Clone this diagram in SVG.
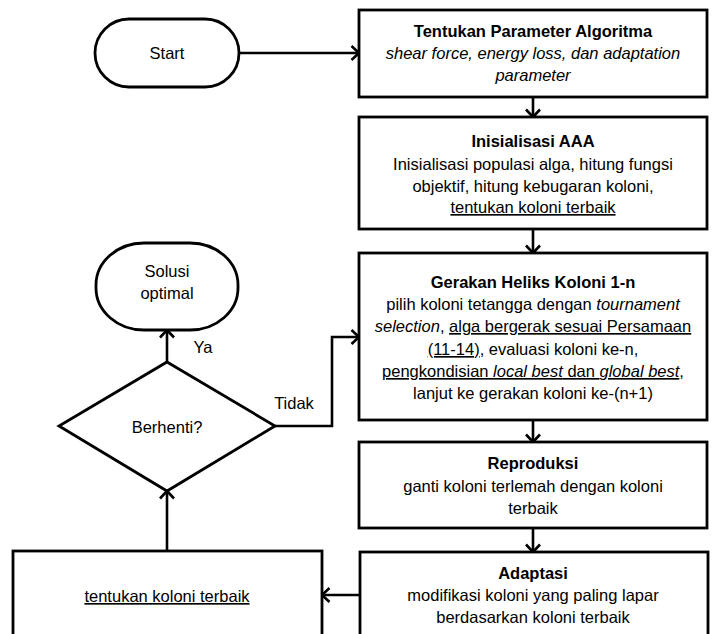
<svg xmlns="http://www.w3.org/2000/svg" width="715" height="634" viewBox="0 0 715 634">
<style>
.shape{fill:#fff;stroke:#000;stroke-width:2.8}
.conn{fill:none;stroke:#000;stroke-width:2.6}
text{font-family:"Liberation Sans",Arial,sans-serif;font-size:16.5px;fill:#000;text-anchor:middle}
.b{font-weight:bold}
.i{font-style:italic}
.u{text-decoration:underline}
</style>
<defs>
<marker id="arr" markerUnits="userSpaceOnUse" markerWidth="16" markerHeight="18" viewBox="0 0 16 18" refX="13.5" refY="9" orient="auto">
<path d="M6,2 L13.5,9 L6,16" fill="none" stroke="#000" stroke-width="2.6"/>
</marker>
</defs>
<rect width="715" height="634" fill="#fff"/>
<g id="connectors">
<line class="conn" x1="239" y1="53" x2="359" y2="53" marker-end="url(#arr)"/>
<line class="conn" x1="533" y1="97" x2="533" y2="117" marker-end="url(#arr)"/>
<line class="conn" x1="533" y1="229" x2="533" y2="253" marker-end="url(#arr)"/>
<line class="conn" x1="533" y1="420" x2="533" y2="442" marker-end="url(#arr)"/>
<line class="conn" x1="533" y1="528" x2="533" y2="552" marker-end="url(#arr)"/>
<line class="conn" x1="360" y1="595" x2="322" y2="595" marker-end="url(#arr)"/>
<line class="conn" x1="167" y1="551" x2="167" y2="491" marker-end="url(#arr)"/>
<line class="conn" x1="167" y1="362" x2="167" y2="330" marker-end="url(#arr)"/>
<polyline class="conn" points="275,426 332,426 332,337 359,337" marker-end="url(#arr)"/>
<text x="203" y="353">Ya</text>
<text x="294" y="409">Tidak</text>
</g>
<g id="start">
<rect class="shape" x="95" y="19" width="144" height="68" rx="34" ry="34"/>
<text x="167" y="59">Start</text>
</g>
<g id="param">
<rect class="shape" x="359" y="10" width="348" height="87"/>
<text x="533" y="37" class="b">Tentukan Parameter Algoritma</text>
<text x="533" y="59" class="i">shear force, energy loss, dan adaptation</text>
<text x="533" y="81" class="i">parameter</text>
</g>
<g id="init">
<rect class="shape" x="359" y="117" width="348" height="112"/>
<text x="533" y="147" class="b">Inisialisasi AAA</text>
<text x="533" y="170">Inisialisasi populasi alga, hitung fungsi</text>
<text x="533" y="192">objektif, hitung kebugaran koloni,</text>
<text x="533" y="213" class="u">tentukan koloni terbaik</text>
</g>
<g id="heliks">
<rect class="shape" x="359" y="253" width="348" height="167"/>
<text x="533" y="288" class="b">Gerakan Heliks Koloni 1-n</text>
<text x="533" y="310">pilih koloni tetangga dengan <tspan class="i">tournament</tspan></text>
<text x="533" y="332"><tspan class="i">selection</tspan>, <tspan class="u">alga bergerak sesuai Persamaan</tspan></text>
<text x="533" y="355"><tspan class="u">(11-14)</tspan>, evaluasi koloni ke-n,</text>
<text x="533" y="377"><tspan class="u">pengkondisian </tspan><tspan class="u i">local best</tspan><tspan class="u"> dan </tspan><tspan class="u i">global best</tspan>,</text>
<text x="533" y="399">lanjut ke gerakan koloni ke-(n+1)</text>
</g>
<g id="reproduksi">
<rect class="shape" x="359" y="442" width="348" height="86"/>
<text x="533" y="469" class="b">Reproduksi</text>
<text x="533" y="492">ganti koloni terlemah dengan koloni</text>
<text x="533" y="514">terbaik</text>
</g>
<g id="adaptasi">
<rect class="shape" x="360" y="552" width="348" height="100"/>
<text x="533" y="579" class="b">Adaptasi</text>
<text x="533" y="601">modifikasi koloni yang paling lapar</text>
<text x="533" y="623">berdasarkan koloni terbaik</text>
</g>
<g id="terbaik">
<rect class="shape" x="13" y="551" width="309" height="100"/>
<text x="167" y="602" class="u">tentukan koloni terbaik</text>
</g>
<g id="berhenti">
<polygon class="shape" points="167,362 275,426 167,491 59,426"/>
<text x="167" y="433">Berhenti?</text>
</g>
<g id="solusi">
<rect class="shape" x="96" y="243" width="142" height="87" rx="48" ry="42"/>
<text x="167" y="277">Solusi</text>
<text x="167" y="299">optimal</text>
</g>
</svg>
